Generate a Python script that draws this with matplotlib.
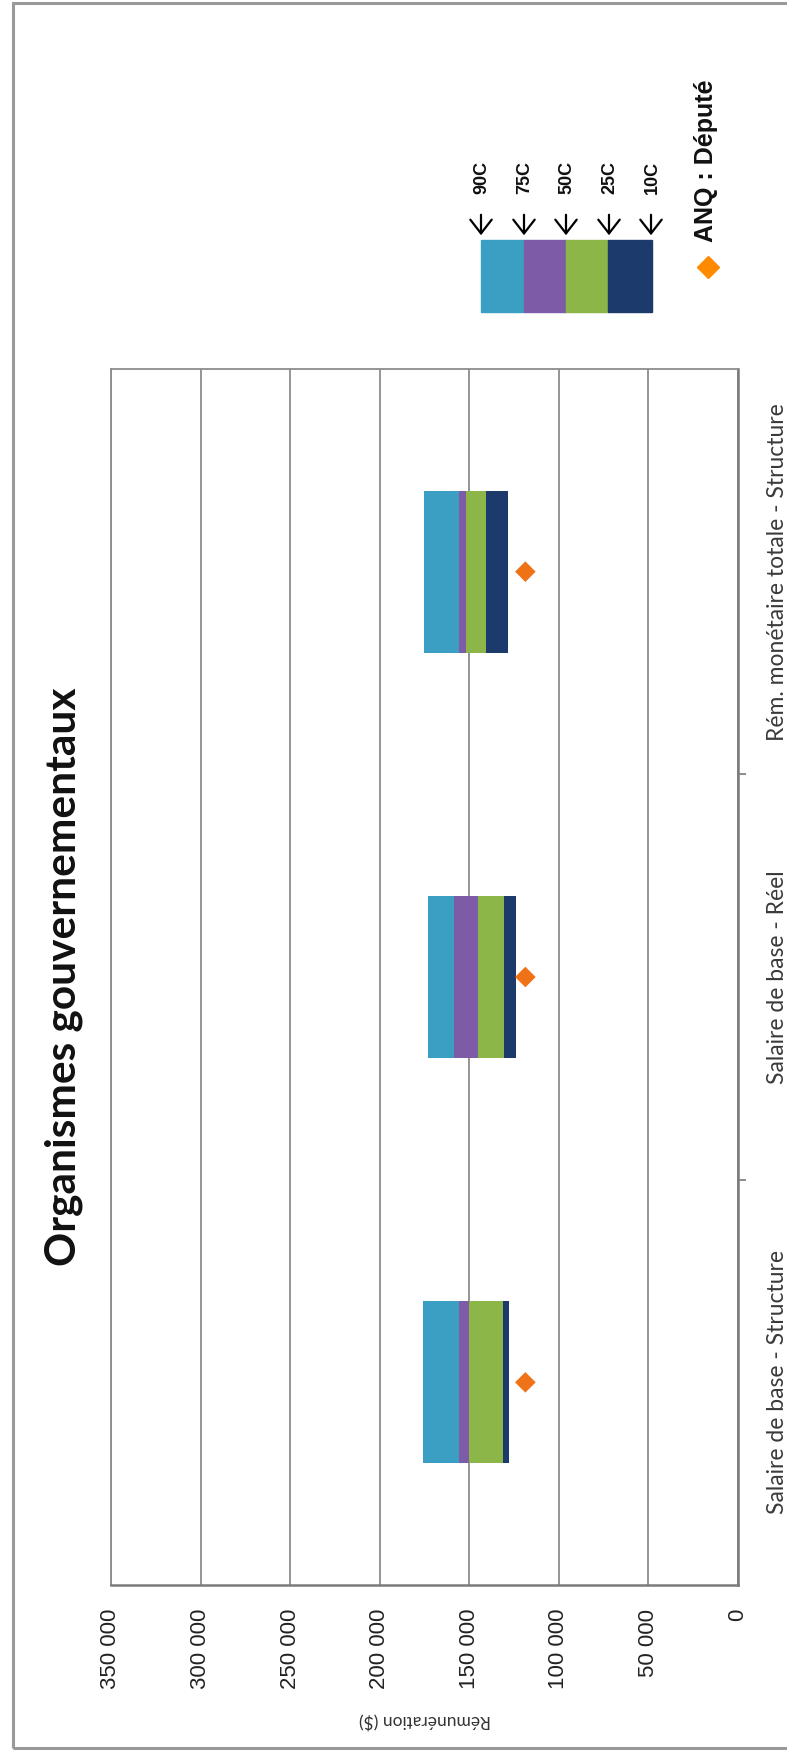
import matplotlib
matplotlib.use("Agg")
import matplotlib.pyplot as plt
from matplotlib.patches import Rectangle, FancyArrowPatch
from matplotlib.lines import Line2D

# chart data
categories = ["Salaire de base - Structure", "Salaire de base - Réel",
              "Rém. monétaire totale - Structure"]
p10 = [127600, 123700, 128200]
p25 = [131000, 130400, 140400]
p50 = [150300, 144900, 151600]
p75 = [155900, 158300, 156000]
p90 = [175900, 172800, 175500]
depute = [118700, 118700, 118700]

value_ticks = [0, 50000, 100000, 150000, 200000, 250000, 300000, 350000]
legend_labels = ["90C", "75C", "50C", "25C", "10C"]

TEAL = "#3A9FC3"
PURPLE = "#7D5BA6"
GREEN = "#8DB648"
NAVY = "#1C3A6C"
ORANGE = "#F07217"
GRID = "#8C8C8C"

W, H = 787, 1752


def fx(x):
    return x / W


def fy(y):
    return 1 - y / H


fig = plt.figure(figsize=(W / 100, H / 100), dpi=100)
fig.patch.set_facecolor("white")

# outer frame of the chart (right side is cut off in the original)
fig.patches.append(Rectangle((fx(13), fy(1748)), fx(800) - fx(13), fy(3) - fy(1748),
                             transform=fig.transFigure, fill=False,
                             edgecolor="#9A9A9A", linewidth=2.2))

# plot area; the whole chart is turned a quarter turn
ax = fig.add_axes([fx(111), fy(1585), fx(738) - fx(111), fy(369) - fy(1585)])
ypos = list(range(len(categories)))
bh = 0.4

ax.barh(ypos, [b - a for a, b in zip(p10, p25)], left=p10, height=bh, color=NAVY, zorder=3)
ax.barh(ypos, [b - a for a, b in zip(p25, p50)], left=p25, height=bh, color=GREEN, zorder=3)
ax.barh(ypos, [b - a for a, b in zip(p50, p75)], left=p50, height=bh, color=PURPLE, zorder=3)
ax.barh(ypos, [b - a for a, b in zip(p75, p90)], left=p75, height=bh, color=TEAL, zorder=3)
ax.scatter(depute, ypos, marker="D", s=110, color=ORANGE, edgecolors="none", zorder=4)

ax.set_xlim(350000, 0)
ax.set_ylim(-0.5, len(categories) - 0.5)

ax.set_xticks(value_ticks)
ax.set_xticklabels([f"{v:,}".replace(",", " ") for v in value_ticks],
                   rotation=90, fontsize=16, family="Liberation Sans", color="#222222")
ax.tick_params(axis="x", length=0, pad=17)
ax.grid(axis="x", color=GRID, linewidth=1.3, zorder=1)

ax.yaxis.tick_right()
ax.set_yticks(ypos)
ax.set_yticklabels(categories, rotation=90, va="center", ha="left",
                   fontsize=16.5, family="Lato", color="#3A3A3A")
ax.set_yticks([0.5, 1.5], minor=True)
ax.tick_params(axis="y", which="major", length=0, pad=21)
ax.tick_params(axis="y", which="minor", length=6, width=1.4, color=GRID, direction="out")

for side in ["top", "left"]:
    ax.spines[side].set_color(GRID)
    ax.spines[side].set_linewidth(1.3)
for side in ["bottom", "right"]:
    ax.spines[side].set_color("#7A7A7A")
    ax.spines[side].set_linewidth(1.8)

# value axis title
fig.text(fx(425), fy(1720), "Rémunération ($)", rotation=180, ha="center", va="center",
         fontsize=12.5, family="Lato", color="#333333")

# chart title
fig.text(fx(64), fy(977), "Organismes gouvernementaux", rotation=90, ha="center",
         va="center", fontsize=30.5, family="Lato", fontweight="bold", color="#111111")

# legend: coloured strip with arrows for the percentiles
strip = [(481, 524, TEAL), (524, 566, PURPLE), (566, 608, GREEN), (608, 652, NAVY)]
for x0, x1, c in strip:
    fig.patches.append(Rectangle((fx(x0), fy(312)), fx(x1) - fx(x0), fy(240) - fy(312),
                                 transform=fig.transFigure, color=c))

arrow_x = [481, 524, 566, 609, 651]
for x, lab in zip(arrow_x, legend_labels):
    fig.patches.append(FancyArrowPatch(
        (fx(x), fy(212)), (fx(x), fy(238)), transform=fig.transFigure,
        arrowstyle="->,head_width=0.35,head_length=0.45", mutation_scale=22,
        color="black", linewidth=1.6))
    fig.text(fx(x + 1), fy(177), lab, rotation=90, ha="center", va="center",
             fontsize=13, family="Liberation Sans", fontweight="bold", color="#111111")

fig.lines.append(Line2D([fx(708)], [fy(267)], marker="D", markersize=11,
                        color="#FF8A00", transform=fig.transFigure, linestyle="none"))
fig.text(fx(706), fy(161), "ANQ : Député", rotation=90, ha="center", va="center",
         fontsize=18, family="Liberation Sans", fontweight="bold", color="#111111")

fig.savefig("out.png", dpi=100, facecolor="white")
